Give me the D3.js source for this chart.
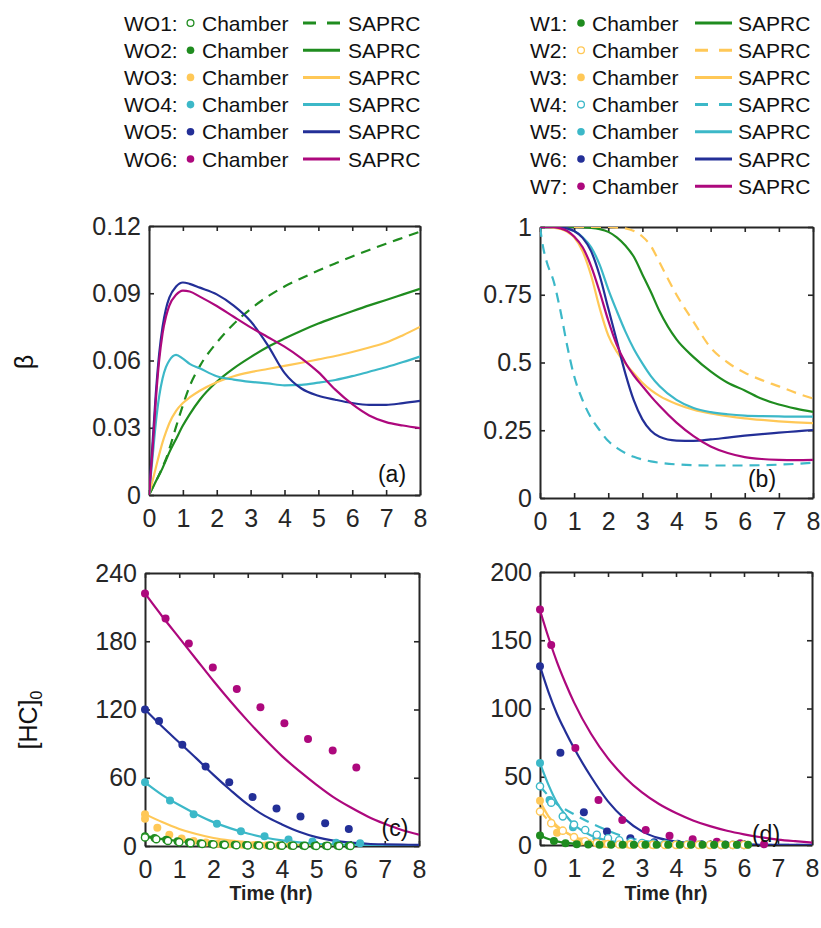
<!DOCTYPE html>
<html><head><meta charset="utf-8">
<script src="https://cdn.jsdelivr.net/npm/d3@7"></script>
<style>body{margin:0;background:#fff;} svg{display:block;}</style>
</head><body>
<svg id="chart" width="821" height="928"></svg>
<script>
// ---------------- DATA ----------------
const xTickValues = [0,1,2,3,4,5,6,7,8];
const xTickLabels = ["0","1","2","3","4","5","6","7","8"];
const yTicksA = [0,0.03,0.06,0.09,0.12];
const yLabelsA = ["0","0.03","0.06","0.09","0.12"];
const yTicksB = [0,0.25,0.5,0.75,1];
const yLabelsB = ["0","0.25","0.5","0.75","1"];
const yTicksC = [0,60,120,180,240];
const yLabelsC = ["0","60","120","180","240"];
const yTicksD = [0,50,100,150,200];
const yLabelsD = ["0","50","100","150","200"];

const seriesLeft = ["WO1","WO2","WO3","WO4","WO5","WO6"];
const seriesRight = ["W1","W2","W3","W4","W5","W6","W7"];

// (a) beta, SAPRC
const tA = [0,0.1,0.2,0.3,0.4,0.5,0.6,0.8,1,1.2,1.5,2,2.5,3,3.5,4,4.5,5,5.5,6,6.5,7,7.5,8];
const betaWO1 = [0,0.003,0.006,0.009,0.0125,0.016,0.0205,0.0305,0.04,0.0485,0.0575,0.068,0.0763,0.083,0.0885,0.093,0.0967,0.1001,0.1033,0.1064,0.1093,0.1121,0.1148,0.1175];
const betaWO2 = [0,0.003,0.006,0.009,0.012,0.0155,0.019,0.025,0.031,0.036,0.0425,0.0505,0.0565,0.0615,0.066,0.0698,0.0733,0.0765,0.0793,0.082,0.0846,0.087,0.0895,0.092];
const betaWO3 = [0,0.006,0.012,0.018,0.0235,0.028,0.032,0.0375,0.041,0.0435,0.0465,0.0503,0.053,0.0548,0.0562,0.0576,0.059,0.0605,0.062,0.0638,0.0658,0.068,0.0713,0.075];
const betaWO4 = [0,0.016,0.032,0.044,0.052,0.057,0.06,0.0625,0.0608,0.0585,0.0565,0.053,0.0515,0.0505,0.0498,0.0489,0.0491,0.0501,0.0513,0.053,0.055,0.057,0.0593,0.0618];
const betaWO5 = [0,0.022,0.045,0.063,0.075,0.083,0.088,0.093,0.0948,0.0942,0.0925,0.0895,0.0845,0.0775,0.067,0.0545,0.0475,0.0443,0.0425,0.041,0.0402,0.0402,0.041,0.042];
const betaWO6 = [0,0.019,0.042,0.06,0.072,0.0795,0.0845,0.0893,0.0912,0.0908,0.0885,0.0843,0.0795,0.0748,0.0705,0.0662,0.061,0.0548,0.047,0.0405,0.0355,0.0325,0.031,0.0298];

// (b) beta, SAPRC
const tB = [0,0.1,0.2,0.4,0.6,0.8,1,1.25,1.5,1.75,2,2.25,2.5,2.75,3,3.25,3.5,4,4.5,5,5.5,6,6.5,7,7.5,8];
const betaW1 = [1,1,1,1,1,1,1,0.999,0.997,0.992,0.982,0.962,0.932,0.89,0.825,0.76,0.69,0.585,0.52,0.467,0.425,0.397,0.366,0.345,0.33,0.318];
const betaW2 = [1,1,1,1,1,1,1,1,1,1,1,0.998,0.995,0.985,0.965,0.93,0.87,0.75,0.65,0.555,0.5,0.462,0.435,0.412,0.388,0.367];
const betaW3 = [1,1,1,0.998,0.993,0.982,0.962,0.91,0.82,0.7,0.6,0.54,0.497,0.46,0.425,0.398,0.377,0.347,0.326,0.312,0.302,0.294,0.288,0.283,0.279,0.276];
const betaW4 = [1,0.92,0.87,0.8,0.69,0.56,0.45,0.36,0.295,0.25,0.21,0.185,0.166,0.152,0.142,0.135,0.13,0.124,0.121,0.12,0.12,0.12,0.121,0.123,0.126,0.13];
const betaW5 = [1,1,1,1,0.998,0.993,0.985,0.962,0.925,0.86,0.77,0.69,0.615,0.55,0.497,0.45,0.413,0.362,0.332,0.317,0.309,0.304,0.302,0.301,0.3,0.3];
const betaW6 = [1,1,1,1,0.999,0.995,0.985,0.96,0.91,0.82,0.7,0.58,0.46,0.36,0.29,0.248,0.226,0.212,0.211,0.216,0.223,0.23,0.236,0.241,0.246,0.251];
const betaW7 = [1,1,1,0.999,0.995,0.985,0.965,0.925,0.855,0.76,0.655,0.565,0.5,0.452,0.413,0.375,0.34,0.278,0.228,0.19,0.166,0.151,0.144,0.141,0.14,0.141];

// (c) [HC]0, SAPRC
const tC = [0,0.5,1,1.5,2,2.5,3,3.5,4,4.5,5,5.5,6,6.5,7,7.5,8];
const hcWO1 = [9,6.5,4.7,3.3,2.3,1.6,1.1,0.75,0.5,0.35,0.25,0.18,0.12,0.09,0.07,0.05,0.04];
const hcWO2 = [8,6,4.4,3.2,2.3,1.7,1.2,0.9,0.7,0.5,0.4,0.35,0.3,0.27,0.25,0.22,0.2];
const hcWO3 = [28,21,15,10.5,7,4.8,3.3,2.3,1.6,1.1,0.8,0.6,0.4,0.3,0.2,0.15,0.1];
const hcWO4 = [56,45,36,28,21,15.5,11,7.5,5,3.2,2,1.4,1,0.7,0.5,0.4,0.3];
const hcWO5 = [120,105,91,77,62.5,49,36.5,26.5,19,12.5,7.8,4.8,3,2,1.5,1.2,1];
const hcWO6 = [222,202,183,164,145,127,110,94,79,66,54,43,34,26,19.5,14,10];

// (c) chamber
const tObsWO1 = [0,0.33,0.67,1,1.33,1.67,2,2.33,2.67,3,3.33,3.67,4,4.33,4.67,5,5.33,5.67,6];
const obsWO1 = [7.5,6,4.5,3.3,2.5,1.8,1.3,1,0.7,0.5,0.4,0.3,0.25,0.2,0.15,0.1,0.1,0.1,0.1];
const tObsWO2 = [0,0.28,0.62,0.95,1.28,1.62,1.95,2.28,2.62,2.95,3.28,3.62,3.95,4.28,4.62,4.95,5.28,5.62,5.95];
const obsWO2 = [8.5,7,5.5,4.2,3.2,2.4,1.8,1.4,1.1,0.8,0.6,0.5,0.4,0.3,0.25,0.2,0.2,0.15,0.15];
const tObsWO3 = [0,0,0.36,0.71,1.07,1.42,1.78,2.13,2.49,2.84,3.2,3.55,3.91,4.26];
const obsWO3 = [28,24,16,10,6.5,4.5,3,2,1.5,1,0.8,0.6,0.5,0.4];
const tObsWO4 = [0,0.73,1.42,2.1,2.8,3.49,4.19,4.89,5.58,6.28];
const obsWO4 = [56,40,28,19.5,13,8.5,5.8,4,2.8,2.5];
const tObsWO5 = [0,0.41,1.09,1.77,2.46,3.14,3.84,4.54,5.26,5.95];
const obsWO5 = [120,110,89,70,56,43,33,26,20,15];
const tObsWO6 = [0,0.6,1.28,1.98,2.68,3.37,4.07,4.76,5.48,6.17];
const obsWO6 = [222,200,178,157,138,122,108,94,84,69];

// (d) [HC]0, SAPRC
const tD = [0,0.25,0.5,0.75,1,1.5,2,2.5,3,3.5,4,4.5,5,5.5,6,6.5,7,7.5,8];
const hcW1 = [7,4.4,2.7,1.7,1.05,0.4,0.15,0.06,0.03,0.02,0.01,0,0,0,0,0,0,0,0];
const hcW2 = [25,18,13,9.2,6.5,3.3,1.6,0.8,0.4,0.2,0.1,0.05,0.03,0.02,0.01,0,0,0,0];
const hcW3 = [32,21,14,9.5,6,2.4,1,0.4,0.2,0.1,0.05,0.03,0.02,0.01,0,0,0,0,0];
const hcW4 = [43,36,30,26,22.5,16,10.5,6,3.3,1.8,1,0.6,0.35,0.2,0.1,0.05,0.03,0.02,0.01];
const hcW5 = [60,44,31,22,15,7,3.2,1.5,0.7,0.35,0.2,0.1,0.05,0.03,0.02,0.01,0,0,0];
const hcW6 = [131,112,96,83,71,50,32,19,10,5,2.5,1.3,0.7,0.5,0.3,0.2,0.15,0.1,0.1];
const hcW7 = [172,152,134,118.5,104.5,81.5,63.5,49.5,38.5,30,23.4,18,13.8,10.4,7.8,5.7,4,2.8,1.8];

// (d) chamber
const tObsW1 = [0,0.41,0.75,1.08,1.42,1.75,2.09,2.43,2.76,3.1,3.43,3.77,4.11,4.44,4.78,5.12,5.45,5.79,6.12];
const obsW1 = [7,2.9,1.2,0.6,0.3,0.2,0.1,0.1,0.1,0.1,0.1,0.1,0.1,0.1,0.1,0.1,0.1,0.1,0.1];
const tObsW2 = [0,0.33,0.67,1,1.33,1.67,2,2.33,2.67,3,3.33,3.67,4,4.33,4.67,5,5.33,5.67,6];
const obsW2 = [24.5,16,10.5,5.8,2.8,1.4,0.7,0.4,0.25,0.15,0.1,0.1,0.1,0.1,0.1,0.1,0.1,0.1,0.1];
const tObsW3 = [0,0.5,1.2,1.9,2.6,3.3,4,4.7,5.4,6.1];
const obsW3 = [32.5,9,2.5,0.8,0.4,0.2,0.1,0.1,0.1,0.1];
const tObsW4 = [0,0.33,0.67,1,1.33,1.67,2,2.33,2.67,3,3.33,3.67,4,4.33,4.67,5,5.33,5.67,6];
const obsW4 = [43,31,21,15,11,7.5,5,3.5,2.3,1.5,1,0.7,0.5,0.3,0.2,0.15,0.1,0.1,0.1];
const tObsW5 = [0,0.28,0.97,1.66,2.35,3.04,3.73,4.42,5.12,5.81];
const obsW5 = [60,33,13,5,2,1,0.5,0.3,0.2,0.1];
const tObsW6 = [0,0.6,1.29,1.97,2.66,3.36,4.05,4.75,5.45];
const obsW6 = [131,67.6,24,9.8,5,2,1,0.5,0.3];
const tObsW7 = [0,0.33,1.04,1.72,2.42,3.11,3.81,4.49,5.2,5.89,6.59];
const obsW7 = [172.6,146.5,71,33,18.3,11,6.7,4.2,2.4,1.2,0.5];

// ---------------- STYLE ----------------
const FONT = "'Liberation Sans', Arial, Helvetica, sans-serif";
const COL = {green:"#1f8c1f", yellow:"#ffc857", cyan:"#3cb8c8", navy:"#232f97", magenta:"#ad087d"};
const AXC = "#262626";
const leftStyle = [
  {c:COL.green, open:true, dash:true},
  {c:COL.green, open:false, dash:false},
  {c:COL.yellow, open:false, dash:false},
  {c:COL.cyan, open:false, dash:false},
  {c:COL.navy, open:false, dash:false},
  {c:COL.magenta, open:false, dash:false}
];
const rightStyle = [
  {c:COL.green, open:false, dash:false},
  {c:COL.yellow, open:true, dash:true},
  {c:COL.yellow, open:false, dash:false},
  {c:COL.cyan, open:true, dash:true},
  {c:COL.cyan, open:false, dash:false},
  {c:COL.navy, open:false, dash:false},
  {c:COL.magenta, open:false, dash:false}
];

const svg = d3.select("#chart");

function drawPanel(p) {
  const g = svg.append("g");
  const x = d3.scaleLinear().domain([0,8]).range([p.x0,p.x1]);
  const y = d3.scaleLinear().domain(p.ydom).range([p.y1,p.y0]);

  const styleAxis = sel => {
    sel.attr("font-family", FONT).attr("font-size", 25);
    sel.select(".domain").attr("stroke", AXC).attr("stroke-width", 2);
    sel.selectAll(".tick line").attr("stroke", AXC).attr("stroke-width", 1.6);
    sel.selectAll(".tick text").attr("fill", "#262626");
  };
  g.append("g").attr("transform",`translate(0,${p.y1})`)
    .call(d3.axisBottom(x).tickValues(xTickValues).tickFormat((d,i)=>xTickLabels[i]).tickSize(-5).tickSizeOuter(0).tickPadding(14))
    .call(styleAxis);
  g.append("g").attr("transform",`translate(0,${p.y0})`)
    .call(d3.axisTop(x).tickValues(xTickValues).tickFormat("").tickSize(-5).tickSizeOuter(0))
    .call(styleAxis);
  g.append("g").attr("transform",`translate(${p.x0},0)`)
    .call(d3.axisLeft(y).tickValues(p.yticks).tickFormat((d,i)=>p.ylabels[i]).tickSize(-5).tickSizeOuter(0).tickPadding(8))
    .call(styleAxis);
  g.append("g").attr("transform",`translate(${p.x1},0)`)
    .call(d3.axisRight(y).tickValues(p.yticks).tickFormat("").tickSize(-5).tickSizeOuter(0))
    .call(styleAxis);

  const clipId = "clip-" + p.id;
  svg.append("clipPath").attr("id", clipId).append("rect")
    .attr("x", p.x0).attr("y", p.y0).attr("width", p.x1 - p.x0).attr("height", p.y1 - p.y0);

  const line = d3.line().x(d => x(d[0])).y(d => y(d[1])).curve(d3.curveMonotoneX);
  const lg = g.append("g").attr("clip-path", `url(#${clipId})`);
  p.lines.forEach(s => {
    lg.append("path").datum(d3.zip(s.t, s.v)).attr("d", line)
      .attr("fill","none").attr("stroke", s.st.c).attr("stroke-width", 2.2)
      .attr("stroke-linejoin","round")
      .attr("stroke-dasharray", s.st.dash ? "10,7" : null);
  });
  if (p.points) {
    const pg = g.append("g");
    p.points.slice().reverse().forEach(s => {
      pg.selectAll(null).data(d3.zip(s.t, s.v)).enter().append("circle")
        .attr("cx", d => x(d[0])).attr("cy", d => y(d[1]))
        .attr("r", s.st.open ? 3.6 : 4)
        .attr("fill", s.st.open ? "#fff" : s.st.c)
        .attr("stroke", s.st.open ? s.st.c : "none")
        .attr("stroke-width", 1.4);
    });
  }
  g.append("text").attr("x", p.lx).attr("y", p.ly).attr("text-anchor","middle")
    .attr("font-family", FONT).attr("font-size", 23).attr("fill","#111").text(p.label);
}

drawPanel({id:"a", x0:149, x1:420, y0:226, y1:495, ydom:[0,0.12], yticks:yTicksA, ylabels:yLabelsA,
  label:"(a)", lx:392, ly:482,
  lines:[betaWO1,betaWO2,betaWO3,betaWO4,betaWO5,betaWO6].map((v,i)=>({t:tA, v, st:leftStyle[i]}))});
drawPanel({id:"b", x0:540, x1:813, y0:227, y1:498, ydom:[0,1], yticks:yTicksB, ylabels:yLabelsB,
  label:"(b)", lx:762, ly:487,
  lines:[betaW1,betaW2,betaW3,betaW4,betaW5,betaW6,betaW7].map((v,i)=>({t:tB, v, st:rightStyle[i]}))});
drawPanel({id:"c", x0:145, x1:419, y0:573, y1:846, ydom:[0,240], yticks:yTicksC, ylabels:yLabelsC,
  label:"(c)", lx:395, ly:836,
  lines:[hcWO1,hcWO2,hcWO3,hcWO4,hcWO5,hcWO6].map((v,i)=>({t:tC, v, st:leftStyle[i]})),
  points:[[tObsWO1,obsWO1],[tObsWO2,obsWO2],[tObsWO3,obsWO3],[tObsWO4,obsWO4],[tObsWO5,obsWO5],[tObsWO6,obsWO6]]
    .map((a,i)=>({t:a[0], v:a[1], st:leftStyle[i]}))});
drawPanel({id:"d", x0:540, x1:812, y0:572, y1:845, ydom:[0,200], yticks:yTicksD, ylabels:yLabelsD,
  label:"(d)", lx:766, ly:842,
  lines:[hcW1,hcW2,hcW3,hcW4,hcW5,hcW6,hcW7].map((v,i)=>({t:tD, v, st:rightStyle[i]})),
  points:[[tObsW1,obsW1],[tObsW2,obsW2],[tObsW3,obsW3],[tObsW4,obsW4],[tObsW5,obsW5],[tObsW6,obsW6],[tObsW7,obsW7]]
    .map((a,i)=>({t:a[0], v:a[1], st:rightStyle[i]}))});

// axis titles
svg.append("text").attr("transform","translate(33,362) rotate(-90)").attr("text-anchor","middle")
  .attr("font-family", FONT).attr("font-size", 25).attr("fill","#111").text("β");
const hc = svg.append("text").attr("transform","translate(37,720) rotate(-90)").attr("text-anchor","middle")
  .attr("font-family", FONT).attr("font-size", 25).attr("fill","#111");
hc.append("tspan").text("[HC]");
hc.append("tspan").attr("font-size", 16).attr("dy", 5).text("0");
[[271,"Time (hr)"],[666,"Time (hr)"]].forEach(([cx,t]) => {
  svg.append("text").attr("x",cx).attr("y",900).attr("text-anchor","middle")
    .attr("font-family", FONT).attr("font-size", 19.5).attr("font-weight","bold").attr("fill","#222").text(t);
});

// legends
function drawLegend(names, styles, o) {
  names.forEach((n,i) => {
    const cy = o.y0 + i * 27.2;
    const st = styles[i];
    const g = svg.append("g").attr("font-family", FONT).attr("font-size", 21).attr("fill","#111");
    g.append("text").attr("x", o.xName).attr("y", cy + 7.5).text(n + ":");
    g.append("circle").attr("cx", o.xMark).attr("cy", cy).attr("r", st.open ? 3.4 : 3.8)
      .attr("fill", st.open ? "#fff" : st.c).attr("stroke", st.open ? st.c : "none").attr("stroke-width", 1.3);
    g.append("text").attr("x", o.xCh).attr("y", cy + 7.5).text("Chamber");
    g.append("line").attr("x1", o.xL0).attr("x2", o.xL1).attr("y1", cy).attr("y2", cy)
      .attr("stroke", st.c).attr("stroke-width", 3).attr("stroke-dasharray", st.dash ? "13,11" : null);
    g.append("text").attr("x", o.xS).attr("y", cy + 7.5).text("SAPRC");
  });
}
drawLegend(seriesLeft, leftStyle, {y0:23, xName:124, xMark:190.5, xCh:202, xL0:303, xL1:340, xS:348});
drawLegend(seriesRight, rightStyle, {y0:23, xName:530, xMark:581, xCh:592, xL0:695, xL1:732, xS:738});
</script>
</body></html>
